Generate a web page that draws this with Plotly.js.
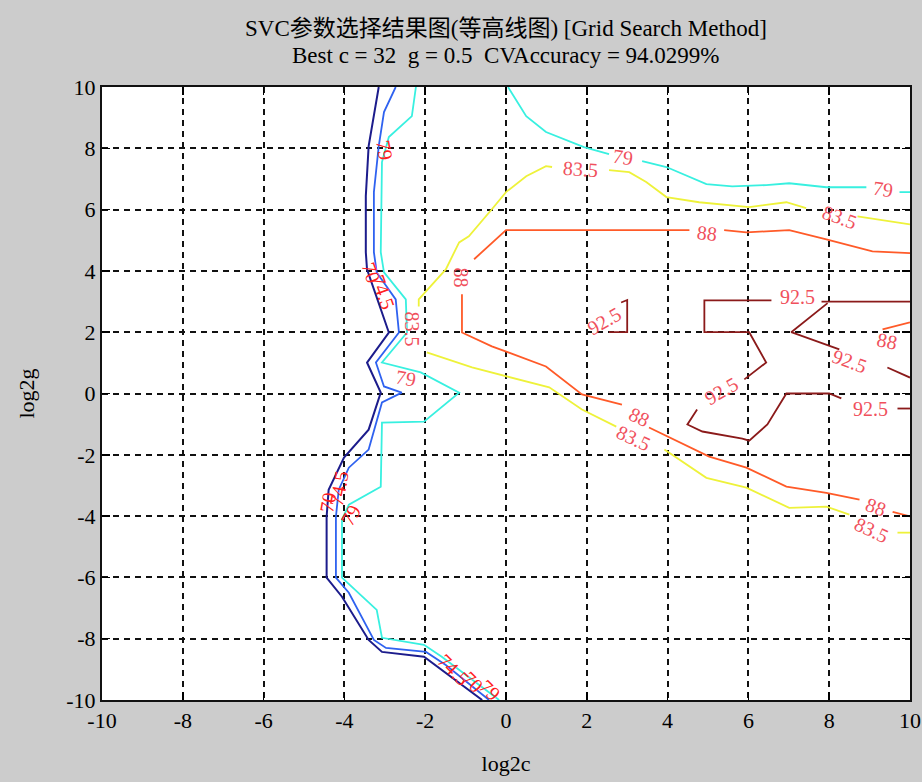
<!DOCTYPE html>
<html>
<head>
<meta charset="utf-8">
<script src="https://cdn.plot.ly/plotly-3.0.1.min.js"></script>
<style>html,body{margin:0;padding:0;background:#cccccc;}#chart{width:922px;height:782px;}</style>
</head>
<body>
<div id="chart"></div>
<script>
// Contour levels (CV accuracy %) and their colours
const levels = [70, 74.5, 79, 83.5, 88, 92.5];
const levelColors = ['#1c1c8c', '#2f62f0', '#38f0e0', '#eef23a', '#ff5a28', '#8b1a1a'];

// Contour polylines (log2c, log2g); null = break
const c70x = [-3.15,-3.40,-3.47,-3.47,-3.44,-2.90,-3.44,-3.10,-3.40,-4.01,-4.39,-4.44,-4.44,-4.06,-3.40,-3.07,-2.03,-1.59,-0.59];
const c70y = [10,8.07,6.44,4.61,4.05,1.99,1.01,0.03,-1.18,-2.09,-3.14,-4.02,-6.01,-6.63,-8.04,-8.43,-8.59,-9.02,-10];

const c745x = [-2.73,-3.02,-3.15,-3.27,-3.27,-3.20,-2.73,-2.65,-3.22,-3.02,-2.58,-3.07,-3.40,-3.89,-4.14,-4.21,-4.21,-3.89,-3.27,-2.97,-1.98,-1.49,-0.42];
const c745y = [10,9.18,8.07,6.57,4.61,3.95,3.07,1.99,1.01,0.23,0.03,-0.29,-1.83,-2.42,-3.14,-4.02,-6.01,-6.50,-8.04,-8.30,-8.43,-8.86,-10];

const c79x = [-2.23,-2.33,-2.90,-3.07,-3.10,-3.02,-2.48,-2.45,-3.07,-2.11,-1.16,-2.03,-3.07,-3.10,-3.89,-4.06,-4.06,-3.20,-3.07,-2.03,-1.59,-0.17, null,
              0.05,0.50,0.99,1.93,2.55, null, 3.37,3.97,4.96,5.60,6.44,7.01,7.93,8.92, null, 9.74,10];
const c79y = [10,9.05,8.37,7.55,4.61,3.95,3.07,1.99,1.01,0.69,0.03,-0.92,-0.95,-3.04,-3.63,-4.12,-6.01,-7.06,-7.97,-8.20,-8.59,-10, null,
              10,9.05,8.53,8.04,7.81, null, 7.58,7.39,6.83,6.76,6.80,6.86,6.73,6.73, null, 6.57,6.57];

const c835x = [1.14,0.99,0.50,0,-0.35,-0.92,-1.16,-1.49,-2.16,-2.16, null,
               -1.96,-0.84,1.07,1.88,2.73, null, 3.92,4.96,5.95,7.01,7.93,8.50, null, 9.69,10, null,
               2.55,3.05,3.47,3.97,4.78,6.02,6.94,7.43, null, 8.70,10];
const c835y = [7.39,7.42,7.09,6.57,6.01,5.13,4.93,4.05,3.07,2.84, null,
               1.34,0.85,0.20,-0.52,-1.08, null, -1.83,-2.75,-3.07,-3.73,-3.69,-3.95, null, -4.54,-4.54, null,
               7.29,7.22,6.90,6.41,6.24,6.08,6.24,6.05, null, 5.78,5.52];

const c88x = [-0.79,0,4.54, null, 5.40,5.95,6.44,7.01,7.93,9.07,10, null,
              -1.09,-1.09,-0.35,0.99,1.88,2.87, null, 3.54,5.03,5.95,6.94,7.93,8.75, null, 9.57,10, null,
              9.32,10];
const c88y = [4.38,5.33,5.33, null, 5.33,5.26,5.29,5.33,5.03,4.64,4.58, null,
              3.24,1.99,1.54,0.88,-0.03,-0.36, null, -1.11,-2.06,-2.42,-3.04,-3.24,-3.46, null, -3.86,-4.01, null,
              2.09,2.32];

const c925x = [2.55,3.00,3.00,2.85, null,
               6.57,4.91,4.91,6.02,6.44,5.90, null, 4.73,4.49,4.86,5.85,6.02,6.47,6.94,8.00,8.30, null, 9.69,10, null,
               7.81,10, null, 7.96,7.06,8.25, null, 9.44,10];
const c925y = [2.00,2.00,3.05,2.97, null,
               3.04,3.04,2.00,2.00,1.01,0.46, null, -0.52,-1.01,-1.24,-1.47,-1.54,-1.01,0,0,-0.16, null, -0.49,-0.49, null,
               3.00,3.00, null, 2.95,2.00,1.44, null, 0.85,0.52];

// Inline contour labels: text, position, angle
const labelText  = ['79','83.5','88','79','83.5','88','83.5','79','92.5','92.5','88','92.5','92.5','92.5','88','83.5','88','83.5',
                    '79','70','74.5','74.5','70','79','74.5','70','79'];
const labelX     = [2.90,1.84,4.97,9.34,8.25,-1.12,-2.33,-2.48,2.43,7.21,9.44,8.50,5.33,9.02,3.30,3.15,9.17,9.05,
                    -3.00,-3.35,-3.05,-4.15,-4.40,-3.85,-1.29,-0.82,-0.40];
const labelY     = [7.72,7.32,5.24,6.66,5.75,3.79,2.09,0.52,2.35,3.14,1.70,1.05,0.07,-0.49,-0.78,-1.45,-3.69,-4.45,
                    7.95,3.95,3.30,-3.10,-3.55,-3.95,-9.02,-9.40,-9.67];
const labelAngle = [8,4,6,8,20,90,90,10,-30,0,12,20,-30,0,25,25,20,25,
                    80,70,70,-80,-80,-60,45,45,45];

const xTicks = [-10,-8,-6,-4,-2,0,2,4,6,8,10];
const yTicks = [-10,-8,-6,-4,-2,0,2,4,6,8,10];

const titleLine1 = 'SVC参数选择结果图(等高线图) [Grid Search Method]';
const titleLine2 = 'Best c = 32  g = 0.5  CVAccuracy = 94.0299%';

const serif = 'Liberation Serif, Times New Roman, Noto Sans CJK SC, serif';

const series = [[c70x,c70y],[c745x,c745y],[c79x,c79y],[c835x,c835y],[c88x,c88y],[c925x,c925y]];
const traces = series.map((s, i) => ({
  type: 'scatter', mode: 'lines', x: s[0], y: s[1],
  name: String(levels[i]), connectgaps: false, hoverinfo: 'skip',
  line: {color: levelColors[i], width: i === 0 ? 2 : 1.8}
}));

const annotations = labelText.map((t, i) => ({
  x: labelX[i], y: labelY[i], xref: 'x', yref: 'y', text: t, showarrow: false,
  textangle: labelAngle[i], font: {family: serif, size: 20, color: i >= 18 ? '#ff2020' : '#f0505c'}
}));
annotations.push({
  xref: 'paper', yref: 'paper', x: 0.5, y: 1 + (87 - 56) / 612, yanchor: 'middle',
  text: titleLine2, showarrow: false, font: {family: serif, size: 23, color: '#000'}
});

const axisCommon = {
  range: [-10, 10], tickmode: 'array', showline: true, linecolor: '#111', linewidth: 2,
  mirror: 'allticks', ticks: 'inside', ticklen: 8, tickcolor: '#000', tickwidth: 1.5,
  showgrid: true, gridcolor: '#111', gridwidth: 2, griddash: '6px,5px', zeroline: false,
  tickfont: {family: serif, size: 22, color: '#000'}
};

const layout = {
  width: 922, height: 782,
  margin: {l: 102, r: 12, t: 87, b: 82},
  paper_bgcolor: '#cccccc', plot_bgcolor: '#ffffff',
  showlegend: false,
  title: {text: titleLine1, x: 0.5, xref: 'paper', y: 1 - 28 / 782, yref: 'container', yanchor: 'middle',
          font: {family: serif, size: 23, color: '#000'}},
  xaxis: Object.assign({}, axisCommon, {tickvals: xTicks, ticktext: xTicks.map(String),
          title: {text: 'log2c', standoff: 23, font: {family: serif, size: 22, color: '#000'}}}),
  yaxis: Object.assign({}, axisCommon, {tickvals: yTicks, ticktext: yTicks.map(String),
          title: {text: 'log2g', standoff: 26, font: {family: serif, size: 22, color: '#000'}}}),
  annotations: annotations
};

Plotly.newPlot('chart', traces, layout, {staticPlot: true, displayModeBar: false});
</script>
</body>
</html>
